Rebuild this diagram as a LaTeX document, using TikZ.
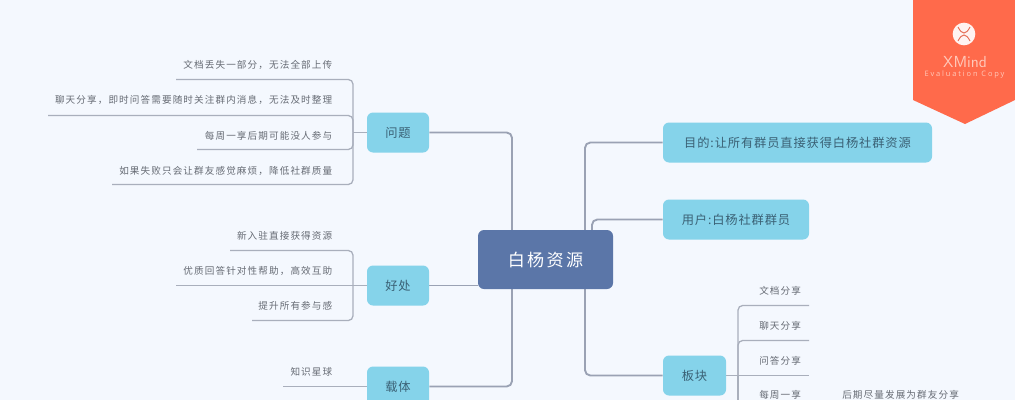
\documentclass[tikz,border=0pt]{standalone}
\usepackage{fontspec}
\usetikzlibrary{backgrounds,calc}
\newfontfamily\cjk[LetterSpace=11.5]{Noto Sans CJK SC}
\newfontfamily\cjktopic[LetterSpace=7]{Noto Sans CJK SC}
\newfontfamily\cjkwide[LetterSpace=14]{Noto Sans CJK SC}
\newfontfamily\logospaced[LetterSpace=25]{Open Sans}
\definecolor{pagebg}{HTML}{F4F8FE}
\definecolor{topicfill}{HTML}{85D3EA}
\definecolor{rootfill}{HTML}{5B76A8}
\definecolor{topictext}{HTML}{3A6074}
\definecolor{leaftext}{HTML}{666B74}
\definecolor{linecol}{HTML}{A9AFBC}
\definecolor{trunkcol}{HTML}{9AA2B4}
\definecolor{bannerfill}{HTML}{FF6A4B}
\definecolor{bannertext}{HTML}{FFC9BA}
\tikzset{
  x=0.75pt,y=-0.75pt,
  topic/.style={draw=none,fill=topicfill,rounded corners=4.5pt,minimum height=30pt,inner sep=0pt,
    text=topictext,font=\cjktopic\fontsize{9.2}{11}\selectfont},
  rootnode/.style={fill=rootfill,rounded corners=4.5pt,minimum width=101.25pt,minimum height=44.25pt,
    inner sep=0pt,text=white,font=\cjkwide\fontsize{12.8}{15}\selectfont},
  leaf/.style={text=leaftext,inner sep=0pt,font=\cjk\fontsize{7.2}{9}\selectfont},
  leafleft/.style={leaf,anchor=east},
  leafright/.style={leaf,anchor=west},
  branch/.style={draw=trunkcol,line width=1.4pt,rounded corners=4pt},
  trunk/.style={draw=trunkcol,line width=2.1pt,line cap=round},
  twig/.style={draw=linecol,line width=0.95pt,rounded corners=3.5pt},
  logomark/.style={draw=bannerfill!80!gray,line width=0.7pt},
}
\begin{document}
\begin{tikzpicture}
\useasboundingbox (0,0) rectangle (1015,400);
\clip (0,0) rectangle (1015,400);
\begin{pgfonlayer}{background}
\fill[pagebg] (0,0) rectangle (1015,400);
\end{pgfonlayer}

% root and topics
\node[rootnode] (root) at (545.5,259.5) {白杨资源};
\node[topic,minimum width=46.5pt] (wenti) at (398,132.5) {问题};
\node[topic,minimum width=46.5pt] (haochu) at (398,285.5) {好处};
\node[topic,minimum width=46.5pt] (zaiti) at (398,386.5) {载体};
\node[topic,minimum width=201.75pt] (mudi) at (797.5,142.5) {目的:让所有群员直接获得白杨社群资源};
\node[topic,minimum width=109.5pt] (yonghu) at (736,219.5) {用户:白杨社群群员};
\node[topic,minimum width=47.25pt] (bankuai) at (694.5,375.5) {板块};

% leaves
\node[leafleft] (w1) at (332.5,65) {文档丢失一部分，无法全部上传};
\node[leafleft] (w2) at (332.5,100) {聊天分享，即时问答需要随时关注群内消息，无法及时整理};
\node[leafleft] (w3) at (332.5,136) {每周一享后期可能没人参与};
\node[leafleft] (w4) at (332.5,171) {如果失败只会让群友感觉麻烦，降低社群质量};
\node[leafleft] (h1) at (332.5,236) {新入驻直接获得资源};
\node[leafleft] (h2) at (332.5,271) {优质回答针对性帮助，高效互助};
\node[leafleft] (h3) at (332.5,306) {提升所有参与感};
\node[leafleft] (z1) at (332.5,372) {知识星球};
\node[leafright] (b1) at (759,291) {文档分享};
\node[leafright] (b2) at (759,326) {聊天分享};
\node[leafright] (b3) at (759,361) {问答分享};
\node[leafright] (b4) at (759,395) {每周一享};
\node[leafright] (b5) at (842,395) {后期尽量发展为群友分享};

% connector ends and junctions
\coordinate (wj) at (353,132.5);
\coordinate (w1e) at (176,79.5);
\coordinate (w2e) at (48,115.5);
\coordinate (w3e) at (197,149.5);
\coordinate (w4e) at (112,184.5);
\coordinate (hj) at (353,285.5);
\coordinate (h1e) at (230,250.5);
\coordinate (h2e) at (176,285.5);
\coordinate (h3e) at (252,320.5);
\coordinate (z1e) at (283,386.5);
\coordinate (bj) at (738,375.5);
\coordinate (b1e) at (809,305.5);
\coordinate (b2e) at (809,340.5);
\coordinate (b3e) at (809,375.5);
\coordinate (bbot) at (738,410);
\coordinate (tl) at (512,235);
\coordinate (tr) at (585,235);
\coordinate (tu) at (592,235);
\coordinate (dl) at (512,285);
\coordinate (dr) at (585,285);

\begin{pgfonlayer}{background}
\draw[twig] (wj) |- (w1e);
\draw[twig] (wj) |- (w2e);
\draw[twig] (wj) |- (w3e);
\draw[twig] (wj) |- (w4e);
\draw[twig] (wenti.west) -- (wj);
\draw[twig] (hj) |- (h1e);
\draw[twig] (hj) |- (h3e);
\draw[twig] (haochu.west) -- (h2e);
\draw[twig] (zaiti.west) -- (z1e);
\draw[twig] (bj) |- (b1e);
\draw[twig] (bj) |- (b2e);
\draw[twig] (bj) -- (bbot);
\draw[twig] (bankuai.east) -- (b3e);
\draw[branch] (wenti.east) -| (tl);
\draw[branch] (haochu.east) -- (root.west |- haochu.east);
\draw[branch] (zaiti.east) -| (dl);
\draw[branch] (mudi.west) -| (tr);
\draw[branch] (yonghu.west) -| (tu);
\draw[branch] (bankuai.west) -| (dr);
\draw[trunk] (tl) -- ++(0,-97);
\draw[trunk] (dl) -- ++(0,96);
\draw[trunk] (tr) -- ++(0,-87);
\draw[trunk] (dr) -- ++(0,85);
\end{pgfonlayer}

% watermark banner
\fill[bannerfill] (913,0) -- (1015,0) -- (1015,100) -- (965,124) -- (913,100) -- cycle;
\node[circle,fill=white!92!bannerfill,minimum size=17pt,inner sep=0pt] (logo) at (964,34) {};
\draw[logomark] (958,27) .. controls (960,31) and (962,33) .. (964,33) .. controls (966,33) and (968,31) .. (970,27);
\draw[logomark] (958,41) .. controls (960,37) and (962,35) .. (964,35) .. controls (966,35) and (968,37) .. (970,41);
\node[text=bannertext,inner sep=0pt,font=\sffamily\fontsize{12}{13}\selectfont] (xm) at (965,62) {XMind};
\node[text=bannertext,inner sep=0pt,font=\logospaced\fontsize{5.6}{6}\selectfont] (ev) at (964.5,75) {Evaluation Copy};
\end{tikzpicture}
\end{document}
